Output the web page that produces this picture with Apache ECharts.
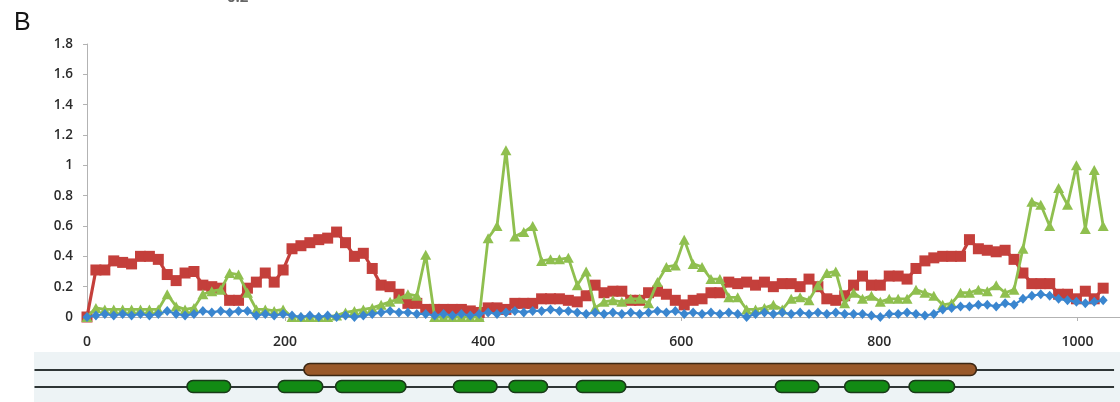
<!DOCTYPE html>
<html>
<head>
<meta charset="utf-8">
<style>
  html, body { margin: 0; padding: 0; background: #ffffff; }
  #chart { width: 1120px; height: 402px; }
</style>
<script src="https://cdn.jsdelivr.net/npm/echarts@6/dist/echarts.min.js"></script>
</head>
<body>
<div id="chart"></div>
<script>
// Window step along the sequence (positions of successive points)
const STEP = 9;

// Profile values per window
const blueValues = [
  0.00, 0.01, 0.02, 0.01, 0.02, 0.01, 0.02, 0.01, 0.02, 0.04,
  0.02, 0.01, 0.02, 0.04, 0.03, 0.04, 0.03, 0.04, 0.04, 0.01,
  0.02, 0.01, 0.02, 0.01, 0.00, 0.01, 0.00, 0.01, 0.00, 0.01,
  0.00, 0.01, 0.02, 0.03, 0.04, 0.03, 0.03, 0.02, 0.02, 0.01,
  0.02, 0.01, 0.02, 0.01, 0.02, 0.03, 0.02, 0.03, 0.04, 0.03,
  0.04, 0.04, 0.05, 0.04, 0.04, 0.03, 0.02, 0.03, 0.02, 0.03,
  0.02, 0.03, 0.02, 0.03, 0.04, 0.03, 0.04, 0.02, 0.03, 0.02,
  0.03, 0.02, 0.03, 0.02, 0.00, 0.02, 0.03, 0.02, 0.03, 0.02,
  0.03, 0.02, 0.03, 0.02, 0.03, 0.02, 0.02, 0.02, 0.01, 0.00,
  0.02, 0.02, 0.03, 0.02, 0.01, 0.02, 0.05, 0.06, 0.07, 0.07,
  0.08, 0.08, 0.07, 0.09, 0.08, 0.12, 0.14, 0.15, 0.14, 0.12,
  0.11, 0.10, 0.09, 0.10, 0.11
];

const redValues = [
  0.00, 0.31, 0.31, 0.37, 0.36, 0.35, 0.40, 0.40, 0.38, 0.28,
  0.24, 0.29, 0.30, 0.21, 0.20, 0.19, 0.11, 0.11, 0.19, 0.23,
  0.29, 0.23, 0.31, 0.45, 0.47, 0.49, 0.51, 0.52, 0.56, 0.49,
  0.40, 0.42, 0.32, 0.21, 0.20, 0.15, 0.09, 0.09, 0.05, 0.05,
  0.05, 0.05, 0.05, 0.04, 0.03, 0.06, 0.06, 0.05, 0.09, 0.09,
  0.09, 0.12, 0.12, 0.12, 0.11, 0.10, 0.14, 0.21, 0.16, 0.17,
  0.17, 0.11, 0.11, 0.16, 0.17, 0.15, 0.11, 0.08, 0.11, 0.12,
  0.16, 0.16, 0.23, 0.22, 0.23, 0.21, 0.23, 0.20, 0.22, 0.22,
  0.20, 0.25, 0.20, 0.12, 0.11, 0.14, 0.21, 0.27, 0.21, 0.21,
  0.27, 0.27, 0.25, 0.32, 0.37, 0.39, 0.40, 0.40, 0.40, 0.51,
  0.45, 0.44, 0.43, 0.44, 0.38, 0.29, 0.22, 0.22, 0.22, 0.15,
  0.15, 0.12, 0.17, 0.12, 0.19
];

const greenValues = [
  0.00, 0.06, 0.05, 0.05, 0.05, 0.05, 0.05, 0.05, 0.05, 0.15,
  0.07, 0.05, 0.06, 0.15, 0.17, 0.18, 0.29, 0.28, 0.16, 0.05,
  0.05, 0.04, 0.05, 0.00, 0.00, 0.00, 0.00, 0.00, 0.01, 0.03,
  0.04, 0.05, 0.06, 0.08, 0.10, 0.12, 0.15, 0.14, 0.41, 0.00,
  0.00, 0.00, 0.00, 0.00, 0.00, 0.52, 0.60, 1.10, 0.53, 0.56,
  0.60, 0.37, 0.38, 0.38, 0.39, 0.21, 0.30, 0.06, 0.10, 0.11,
  0.10, 0.12, 0.12, 0.09, 0.23, 0.33, 0.34, 0.51, 0.35, 0.33,
  0.25, 0.25, 0.13, 0.13, 0.05, 0.05, 0.06, 0.08, 0.05, 0.12,
  0.13, 0.11, 0.21, 0.29, 0.30, 0.09, 0.16, 0.12, 0.14, 0.10,
  0.12, 0.12, 0.12, 0.18, 0.16, 0.14, 0.08, 0.09, 0.16, 0.16,
  0.18, 0.17, 0.21, 0.16, 0.18, 0.45, 0.76, 0.74, 0.60, 0.85,
  0.74, 1.00, 0.58, 0.97, 0.60
];

// Sequence positions of the windows
const positions = redValues.map((_, i) => i * STEP);

// Axis ticks
const xTickValues = [0, 200, 400, 600, 800, 1000];
const X_MAX = 1043;

// Gene map: backbone tracks [start, end], and features [start, end]
const trackSpan = [-53, 1037];
const orfFeatures = [[219, 898]];
const domainFeatures = [
  [101, 145], [193, 238], [251, 322], [370, 414], [426, 465],
  [494, 544], [695, 739], [765, 810], [830, 876]
];

const pairs = arr => arr.map((v, i) => [positions[i], v]);

// Gene map rows (in the map's own vertical units)
const ROW_ORF = 18, ROW_DOMAIN = 35, FEATURE_H = 12;
const geneData = [];
geneData.push([trackSpan[0], trackSpan[1], ROW_ORF, 0, 0]);
geneData.push([trackSpan[0], trackSpan[1], ROW_DOMAIN, 0, 0]);
orfFeatures.forEach(f => geneData.push([f[0], f[1], ROW_ORF - 0.5, FEATURE_H, 1]));
domainFeatures.forEach(f => geneData.push([f[0], f[1], ROW_DOMAIN - 0.5, FEATURE_H, 2]));

function renderGene(params, api) {
  const x0 = api.value(0), x1 = api.value(1), yc = api.value(2);
  const h = api.value(3), kind = api.value(4);
  const p0 = api.coord([x0, yc]);
  const p1 = api.coord([x1, yc]);
  if (kind === 0) {
    return {
      type: 'line',
      shape: { x1: p0[0], y1: p0[1], x2: p1[0], y2: p1[1] },
      style: { stroke: '#2e3535', lineWidth: 2 }
    };
  }
  const hp = api.size([0, h])[1];
  const fill = kind === 1 ? '#99592a' : '#128a14';
  const stroke = kind === 1 ? '#3b2713' : '#183a18';
  return {
    type: 'rect',
    shape: { x: p0[0], y: p0[1] - hp / 2, width: p1[0] - p0[0], height: hp, r: hp / 2 },
    style: { fill: fill, stroke: stroke, lineWidth: 1.6 }
  };
}

const labelFont = 'Open Sans, DejaVu Sans, sans-serif';
const labelColor = '#2b2b2b';
const axisGrey = '#b3b3b3';

const chart = echarts.init(document.getElementById('chart'));
chart.setOption({
  animation: false,
  backgroundColor: '#ffffff',
  title: [
    { text: 'B', left: 9, top: 6, textStyle: { fontSize: 25, fontWeight: 'normal', color: '#151515', fontFamily: 'Liberation Sans, Arial, sans-serif' } },
    { text: '0.2', left: 222, top: -15, textStyle: { fontSize: 15, fontWeight: 'bold', color: '#666', fontFamily: labelFont } }
  ],
  grid: [
    { left: 87, right: 0, top: 44, bottom: 85, outerBoundsMode: 'none', containLabel: false },
    { left: 34, right: 0, top: 352, bottom: 0, outerBoundsMode: 'none', containLabel: false,
      show: true, backgroundColor: '#edf3f5', borderWidth: 0 }
  ],
  xAxis: [
    {
      gridIndex: 0, type: 'value', min: 0, max: X_MAX,
      splitLine: { show: false },
      axisLine: { show: true, onZero: false, lineStyle: { color: axisGrey, width: 1 } },
      axisTick: { show: true, length: 4, inside: false, customValues: xTickValues, lineStyle: { color: axisGrey } },
      axisLabel: {
        customValues: xTickValues, margin: 18, fontSize: 14, fontWeight: 600, color: labelColor,
        fontFamily: labelFont, formatter: v => String(v)
      }
    },
    { gridIndex: 1, type: 'value', min: -53.5, max: X_MAX, show: false }
  ],
  yAxis: [
    {
      gridIndex: 0, type: 'value', min: 0, max: 1.8, interval: 0.2,
      splitLine: { show: false },
      axisLine: { show: true, lineStyle: { color: axisGrey, width: 1 } },
      axisTick: { show: true, length: 4, lineStyle: { color: axisGrey } },
      axisLabel: { margin: 14, fontSize: 13.5, fontWeight: 600, color: labelColor, fontFamily: labelFont }
    },
    { gridIndex: 1, type: 'value', min: 0, max: 50, inverse: true, show: false }
  ],
  series: [
    {
      name: 'red', type: 'line', xAxisIndex: 0, yAxisIndex: 0, data: pairs(redValues),
      symbol: 'rect', symbolSize: 11, clip: false, z: 2,
      lineStyle: { color: '#c43f3b', width: 3.2 },
      itemStyle: { color: '#c43f3b' }
    },
    {
      name: 'green', type: 'line', xAxisIndex: 0, yAxisIndex: 0, data: pairs(greenValues),
      symbol: 'triangle', symbolSize: [11, 10], clip: false, z: 3,
      lineStyle: { color: '#8fbf4f', width: 2.8 },
      itemStyle: { color: '#8fbf4f' }
    },
    {
      name: 'blue', type: 'line', xAxisIndex: 0, yAxisIndex: 0, data: pairs(blueValues),
      symbol: 'diamond', symbolSize: [9, 10], clip: false, z: 4,
      lineStyle: { color: '#3a86cf', width: 2.2 },
      itemStyle: { color: '#3a86cf' }
    },
    {
      name: 'gene map', type: 'custom', xAxisIndex: 1, yAxisIndex: 1,
      renderItem: renderGene, data: geneData, clip: false, silent: true
    }
  ]
});
</script>
</body>
</html>
